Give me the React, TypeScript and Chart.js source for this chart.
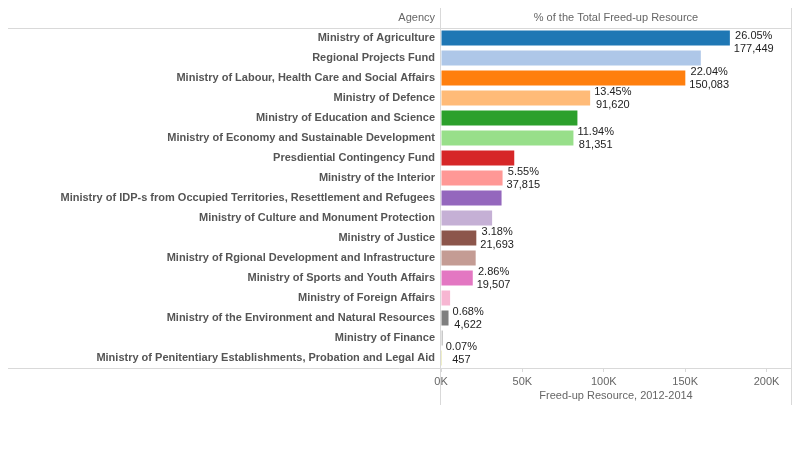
import { useEffect, useRef } from "react";
import { Chart, registerables, type Plugin } from "chart.js";

Chart.register(...registerables);

const agencies = [
  "Ministry of Agriculture",
  "Regional Projects Fund",
  "Ministry of Labour, Health Care and Social Affairs",
  "Ministry of Defence",
  "Ministry of Education and Science",
  "Ministry of Economy and Sustainable Development",
  "Presdiential Contingency Fund",
  "Ministry of the Interior",
  "Ministry of IDP-s from Occupied Territories, Resettlement and Refugees",
  "Ministry of Culture and Monument Protection",
  "Ministry of Justice",
  "Ministry of Rgional Development and Infrastructure",
  "Ministry of Sports and Youth Affairs",
  "Ministry of Foreign Affairs",
  "Ministry of the Environment and Natural Resources",
  "Ministry of Finance",
  "Ministry of Penitentiary Establishments, Probation and Legal Aid",
];

// Freed-up Resource, 2012-2014
const freedUp = [
  177449, 159600, 150083, 91620, 83800, 81351, 45000, 37815, 37200, 31400,
  21693, 21300, 19507, 5600, 4622, 1200, 457,
];

// share labels, only those shown in the picture (null = hidden)
const shares: (string | null)[] = [
  "26.05%", null, "22.04%", "13.45%", null, "11.94%", null, "5.55%", null,
  null, "3.18%", null, "2.86%", null, "0.68%", null, "0.07%",
];

const xTicks = [0, 50000, 100000, 150000, 200000];

const colors = [
  "#1f77b4", "#aec7e8", "#ff7f0e", "#ffbb78", "#2ca02c", "#98df8a",
  "#d62728", "#ff9896", "#9467bd", "#c5b0d5", "#8c564b", "#c49c94",
  "#e377c2", "#f7b6d2", "#7f7f7f", "#c7c7c7", "#bcbd22",
];

const FONT = "Arial, 'Liberation Sans', sans-serif";
const LINE = "#d9d9d9";

const framePlugin: Plugin<"bar"> = {
  id: "frame",
  afterDraw(chart) {
    const { ctx, chartArea } = chart;
    ctx.save();
    ctx.strokeStyle = LINE;
    ctx.lineWidth = 1;
    ctx.beginPath();
    ctx.moveTo(8, chartArea.top + 0.5);
    ctx.lineTo(chartArea.right + 0.5, chartArea.top + 0.5);
    ctx.moveTo(8, chartArea.bottom + 0.5);
    ctx.lineTo(chartArea.right + 0.5, chartArea.bottom + 0.5);
    ctx.moveTo(chartArea.left - 0.5, 8);
    ctx.lineTo(chartArea.left - 0.5, 405);
    ctx.moveTo(chartArea.right + 0.5, 8);
    ctx.lineTo(chartArea.right + 0.5, 405);
    ctx.stroke();

    ctx.fillStyle = "#666";
    ctx.font = `11px ${FONT}`;
    ctx.textBaseline = "middle";
    ctx.textAlign = "right";
    ctx.fillText("Agency", chartArea.left - 6, 18);
    ctx.textAlign = "center";
    ctx.fillText(
      "% of the Total Freed-up Resource",
      (chartArea.left + chartArea.right) / 2,
      18
    );

    // value labels
    const meta = chart.getDatasetMeta(0);
    ctx.fillStyle = "#222";
    meta.data.forEach((bar, i) => {
      const pct = shares[i];
      if (!pct) return;
      const val = freedUp[i].toLocaleString("en-US");
      const w = Math.max(ctx.measureText(pct).width, ctx.measureText(val).width);
      const cx = bar.x + 4 + w / 2;
      let y1 = bar.y - 6.5;
      y1 = Math.max(y1, chartArea.top + 8);
      y1 = Math.min(y1, chartArea.bottom - 21);
      ctx.fillText(pct, cx, y1);
      ctx.fillText(val, cx, y1 + 13);
    });
    ctx.restore();
  },
};

export default function App() {
  const canvasRef = useRef<HTMLCanvasElement | null>(null);

  useEffect(() => {
    document.body.style.margin = "0";
    if (!canvasRef.current) return;
    const chart = new Chart(canvasRef.current, {
      type: "bar",
      data: {
        labels: agencies,
        datasets: [
          {
            data: freedUp,
            backgroundColor: colors,
            barPercentage: 0.75,
            categoryPercentage: 1,
          },
        ],
      },
      options: {
        indexAxis: "y",
        responsive: false,
        animation: false,
        layout: { padding: { top: 28, right: 8, bottom: 44, left: 0 } },
        plugins: {
          legend: { display: false },
          tooltip: { enabled: false },
        },
        scales: {
          y: {
            grid: { display: false, drawTicks: false },
            border: { display: false },
            ticks: {
              padding: 6,
              color: "#555",
              font: { family: FONT, size: 11, weight: "bold" },
            },
            afterFit: (scale) => {
              scale.width = 441;
            },
          },
          x: {
            min: 0,
            max: 215000,
            afterBuildTicks: (scale) => {
              scale.ticks = xTicks.map((v) => ({ value: v }));
            },
            grid: {
              drawOnChartArea: false,
              drawTicks: true,
              tickLength: 4,
              color: LINE,
            },
            border: { display: false },
            ticks: {
              padding: 3,
              color: "#666",
              maxRotation: 0,
              font: { family: FONT, size: 11 },
              callback: (v) => `${Number(v) / 1000}K`,
            },
            title: {
              display: true,
              text: "Freed-up Resource, 2012-2014",
              color: "#666",
              padding: { top: 0, bottom: 2 },
              font: { family: FONT, size: 11 },
            },
            afterFit: (scale) => {
              scale.height = 37;
            },
          },
        },
      },
      plugins: [framePlugin],
    });
    return () => chart.destroy();
  }, []);

  return <canvas ref={canvasRef} width={799} height={449} />;
}
